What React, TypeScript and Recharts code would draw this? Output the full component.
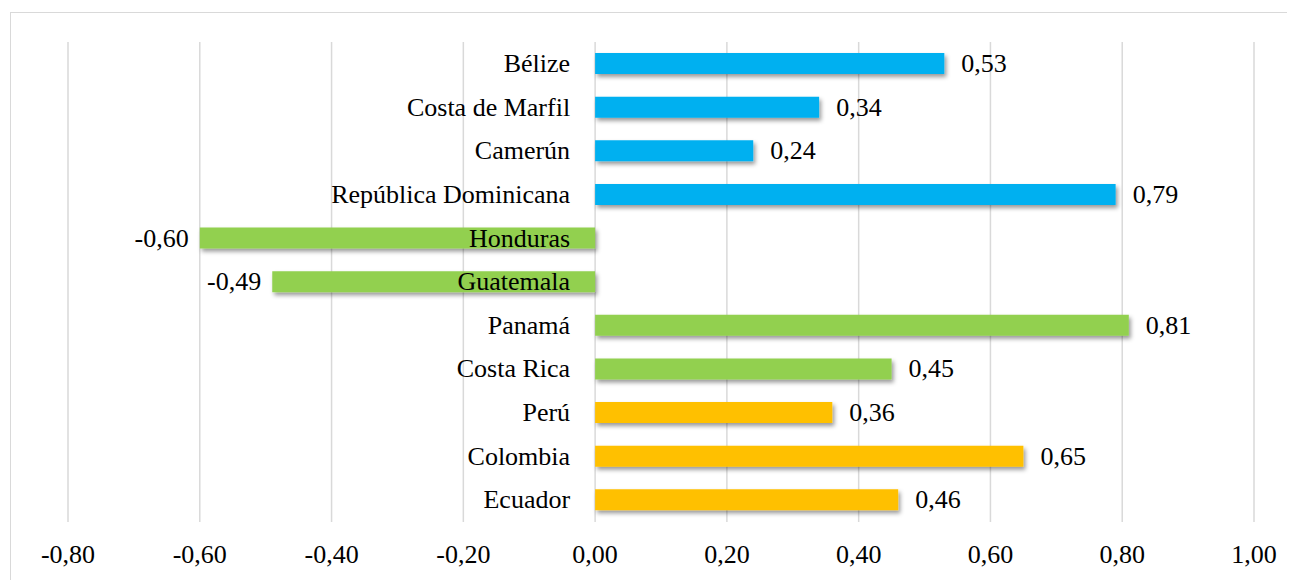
import { BarChart, Bar, XAxis, YAxis, CartesianGrid, Cell, LabelList } from 'recharts';

const countries = [
  'Bélize',
  'Costa de Marfil',
  'Camerún',
  'República Dominicana',
  'Honduras',
  'Guatemala',
  'Panamá',
  'Costa Rica',
  'Perú',
  'Colombia',
  'Ecuador',
];
const values = [0.53, 0.34, 0.24, 0.79, -0.6, -0.49, 0.81, 0.45, 0.36, 0.65, 0.46];
const groups = ['a', 'a', 'a', 'a', 'b', 'b', 'b', 'b', 'c', 'c', 'c'];
const xTicks = [-0.8, -0.6, -0.4, -0.2, 0, 0.2, 0.4, 0.6, 0.8, 1.0];

const groupColors: Record<string, string> = {
  a: '#00B0F0',
  b: '#92D050',
  c: '#FFC000',
};

const data = countries.map((name, i) => ({ name, value: values[i], group: groups[i] }));

const FONT = '"Liberation Serif", "DejaVu Serif", serif';
const fmt = (v: number) => v.toFixed(2).replace('.', ',');

const NameLabel = (props: any) => {
  const { x, y, width, height, value } = props;
  const v = Number(value);
  const x0 = Math.min(x, x + width);
  const x1 = Math.max(x, x + width);
  const zero = v >= 0 ? x0 : x1;
  const idx = values.indexOf(v);
  return (
    <text
      x={zero - 25}
      y={y + height / 2}
      textAnchor="end"
      dominantBaseline="central"
      fontFamily={FONT}
      fontSize={26}
      fill="#000"
    >
      {countries[idx]}
    </text>
  );
};

const ValueLabel = (props: any) => {
  const { x, y, width, height, value } = props;
  const v = Number(value);
  const x0 = Math.min(x, x + width);
  const x1 = Math.max(x, x + width);
  return (
    <text
      x={v >= 0 ? x1 + 17 : x0 - 11}
      y={y + height / 2}
      textAnchor={v >= 0 ? 'start' : 'end'}
      dominantBaseline="central"
      fontFamily={FONT}
      fontSize={26}
      fill="#000"
    >
      {fmt(v)}
    </text>
  );
};

export default function App() {
  return (
    <div style={{ width: 1287, height: 572, overflow: 'hidden' }}>
      <div
        style={{
          marginLeft: 2,
          marginTop: 4,
          width: 1300,
          height: 600,
          border: '1px solid #d9d9d9',
          background: '#fff',
        }}
      >
        <BarChart
          width={1290}
          height={560}
          data={data}
          layout="vertical"
          margin={{ top: 29, right: 47, bottom: 0, left: 57 }}
        >
          <defs>
            <filter id="shadow" x="-10%" y="-50%" width="120%" height="200%">
              <feDropShadow dx="2" dy="3" stdDeviation="2" floodColor="#000" floodOpacity="0.4" />
            </filter>
          </defs>
          <CartesianGrid horizontal={false} stroke="#d9d9d9" strokeWidth={1.5} />
          <XAxis
            type="number"
            domain={[-0.8, 1.0]}
            ticks={xTicks}
            axisLine={false}
            tickLine={false}
            tickSize={0}
            tickMargin={23}
            height={51}
            tickFormatter={fmt}
            tick={{ fontFamily: FONT, fontSize: 26, fill: '#000' }}
            interval={0}
          />
          <YAxis type="category" dataKey="name" hide />
          <Bar dataKey="value" barSize={21} isAnimationActive={false}>
            {data.map((d, i) => (
              <Cell key={i} fill={groupColors[d.group]} filter="url(#shadow)" />
            ))}
            <LabelList dataKey="value" content={NameLabel} />
            <LabelList dataKey="value" content={ValueLabel} />
          </Bar>
        </BarChart>
      </div>
    </div>
  );
}
